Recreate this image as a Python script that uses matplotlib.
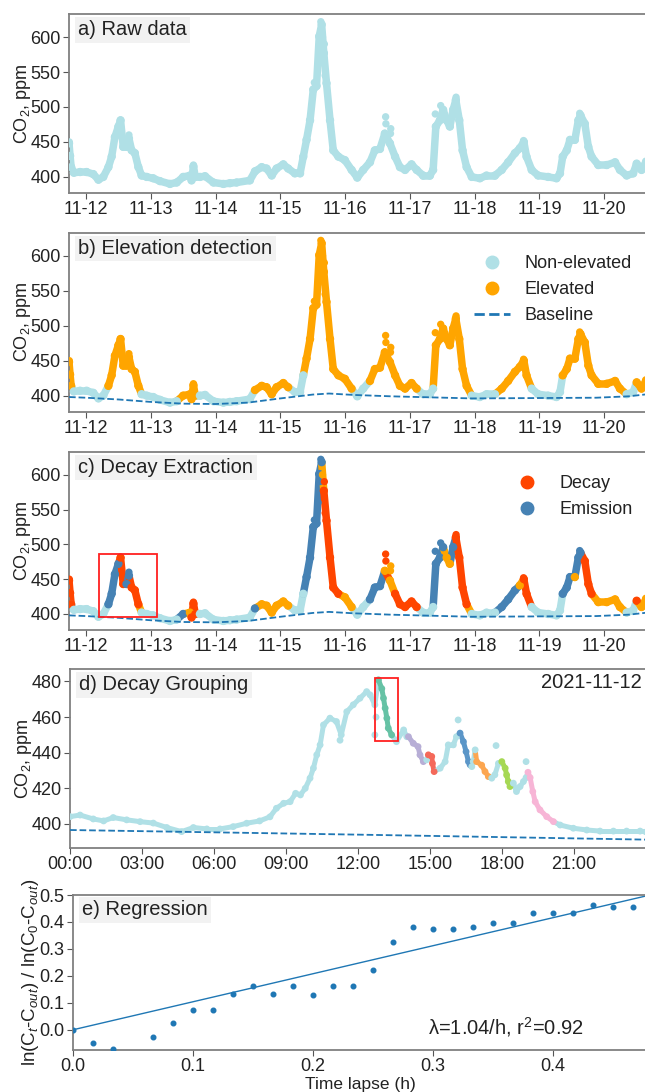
import numpy as np
import matplotlib
matplotlib.use("Agg")
import matplotlib.pyplot as plt
from matplotlib.collections import LineCollection
from matplotlib.lines import Line2D
from matplotlib.patches import Rectangle

plt.rcParams['font.family'] = ['Liberation Sans', 'DejaVu Sans']
plt.rcParams['mathtext.fontset'] = 'custom'
plt.rcParams['mathtext.rm'] = 'Liberation Sans'
plt.rcParams['mathtext.it'] = 'Liberation Sans:italic'

# ---------------- data (hours since 2021-11-12 00:00) ----------------
hours = [-6.3, -5.9, -5.5, -4.5, -2.2, 0.2, 2.7, 4.6, 6.4, 8.3, 9.5, 10.7, 12.0, 12.8,
         13.8, 15.0, 15.9, 16.9, 18.1, 19.4, 20.6, 22.5, 24.9, 27.4, 31.1, 33.6, 36.0,
         38.5, 39.1, 39.8, 40.5, 42.2, 44.1, 47.2, 50.9, 53.3, 55.8, 60.7, 62.6, 65.1,
         66.9, 68.8, 70.6, 73.1, 74.9, 77.4, 79.3, 80.5, 81.7, 83.0, 84.2, 85.4, 86.4,
         87.3, 88.1, 89.1, 90.4, 91.6, 93.5, 95.9, 98.4, 100.5, 102.7, 105.2, 107.0,
         108.9, 110.7, 112.6, 114.5, 116.3, 118.2, 120.6, 122.5, 124.9, 127.4, 128.6,
         129.6, 131.1, 132.3, 133.6, 134.8, 136.0, 137.0, 138.3, 139.5, 141.0, 142.9,
         145.9, 148.4, 151.5, 154.0, 156.4, 158.9, 160.7, 162.2, 163.2, 165.1, 167.5,
         171.2, 174.3, 175.6, 176.6, 178.1, 179.3, 181.1, 182.4, 183.2, 184.8, 186.1,
         187.3, 189.8, 192.9, 196.0, 197.8, 200.3, 202.7, 204.0, 205.8, 207.5]
co2 = [448, 430, 414, 406, 407, 407, 404, 396, 400, 414, 429, 457, 472, 481,
       443, 443, 455, 438, 434, 414, 402, 400, 398, 394, 390, 392, 400,
       402, 395, 415, 400, 400, 401, 392, 390, 391, 392, 395, 408, 414,
       412, 402, 412, 418, 412, 405, 405, 429, 453, 481, 525, 530, 601,
       618, 577, 534, 481, 438, 429, 424, 410, 399, 410, 421, 438,
       440, 462, 448, 429, 414, 410, 418, 410, 402, 402, 410,
       472, 481, 496, 481, 472, 496, 510, 481, 438, 414, 400,
       398, 402, 402, 410, 421, 434, 441, 450, 429, 410, 402,
       400, 398, 405, 429, 438, 453, 453, 481, 488, 476, 443,
       429, 417, 417, 421, 410, 402, 405, 419, 410, 422]
spike_hours = [-6.2, 15.9, 39.8, 84.6, 86.0, 86.6, 87.0, 87.6, 88.3, 88.6,
               111.0, 111.1, 112.8, 112.9, 129.4, 131.4, 137.1, 162.1, 182.9]
spike_co2 = [450, 460, 417, 535, 560, 590, 622, 600, 590, 545,
             486, 476, 462, 469, 490, 502, 514, 452, 491]

baseline_hours = [-6.3, 0, 12, 24, 36, 48, 60, 72, 84, 90, 99, 113, 128, 143, 166, 189, 201, 208]
baseline_co2 = [398, 397, 394.5, 391, 388.5, 388, 390, 396, 401.5, 403, 401, 399, 397.5, 396, 396.5, 397, 399, 402]

elevated_periods = [(-6.4, -5.2), (7.4, 20.0), (34.5, 41.0), (62.0, 75.5), (81.0, 99.0),
                    (104.5, 123.0), (128.8, 142.5), (152.5, 164.5), (176.5, 199.5), (204.0, 208)]
emission_periods = [(7.4, 12.0), (14.5, 16.0), (34.5, 36.0), (62.0, 63.5), (81.0, 87.5),
                    (105.0, 110.5), (128.8, 132.5), (135.0, 137.0), (152.5, 160.0),
                    (176.5, 180.5), (181.5, 183.3)]
decay_periods = [(-6.4, -5.2), (12.3, 14.0), (16.0, 19.5), (39.0, 41.0), (88.0, 94.5),
                 (110.8, 112.5), (114.0, 122.5), (137.0, 141.5), (162.0, 164.3),
                 (183.3, 188.0), (203.0, 204.0)]
date_labels = ['11-12', '11-13', '11-14', '11-15', '11-16', '11-17', '11-18', '11-19', '11-20']

# panel d: 2021-11-12 in detail
day_hours = [0, 0.42, 0.97, 1.4, 1.8, 2.36, 2.92, 3.47, 4.03, 4.65, 5.14, 5.7, 6.25, 6.8,
             7.36, 7.9, 8.33, 8.6, 8.9, 9.17, 9.4, 9.6, 9.8, 10.0, 10.14, 10.28, 10.42,
             10.56, 10.83, 11.1, 11.3, 11.53, 11.8, 12.08, 12.36, 12.5, 12.7, 12.85,
             12.99, 13.06, 13.13, 13.2, 13.26, 13.4, 13.6, 13.9, 14.03, 14.1, 14.3, 14.5,
             14.58, 14.72, 14.86, 14.93, 15.07, 15.1, 15.17, 15.42, 15.63, 15.76, 15.97,
             16.1, 16.25, 16.39, 16.5, 16.6, 16.67, 16.74, 16.8, 16.88, 16.94, 17.15,
             17.29, 17.43, 17.57, 17.7, 17.85, 17.99, 18.13, 18.19, 18.26, 18.33, 18.47,
             18.6, 18.75, 18.89, 19.0, 19.08, 19.17, 19.28, 19.38, 19.58, 19.86, 20.14,
             20.42, 20.97, 21.53, 22.08, 22.64, 23.19, 23.75, 24.0]
day_co2 = [404.1, 405, 402.8, 401.7, 403.6, 402.3, 401.3, 400.5, 398, 395.7, 398, 397.2, 397.2, 398.5,
           400.4, 401.7, 404, 408.8, 411.6, 412.5, 417.2, 416.3, 420, 425.7, 431.3, 438.8, 444.4,
           455.6, 459.4, 457.5, 450, 463, 466.9, 470.6, 474.3, 472.5, 466.9, 480.9,
           476, 470.6, 465, 459.4, 453.8, 450, 446.2, 452.8, 449, 449, 445.3, 443.4,
           438.8, 435, 436, 438.8, 437.9, 434, 429.4, 431.3, 435, 444.4, 444.4,
           449, 451, 446.2, 440.6, 435, 433.2, 432.2, 435, 441.6, 435, 433,
           429.4, 426.6, 425.7, 427.6, 434, 435, 431.3, 427.5, 423.8, 421, 422.9,
           418.2, 421, 423.8, 426, 429, 426, 418.2, 412.5, 407.9, 404.1, 401.3,
           399.4, 397.6, 396.6, 396, 396, 396, 396, 395.5]
day_spike_hours = [11.25, 12.7, 12.75, 16.17, 17.75, 19.0]
day_spike_co2 = [447, 450, 460, 458.4, 444, 435]
group_periods = [(12.8, 13.45), (14.05, 14.75), (14.9, 15.2), (16.2, 16.7), (16.9, 17.45),
                 (17.95, 18.35), (19.05, 20.2)]
group_colors = ['#66c2a5', '#b7aed6', '#f4695a', '#5b96c8', '#fca650', '#a6d854', '#f7b5d6']
day_baseline_hours = [0, 6, 12, 18, 24]
day_baseline_co2 = [396.6, 395.3, 394.0, 392.6, 391.2]
time_labels = ['00:00', '03:00', '06:00', '09:00', '12:00', '15:00', '18:00', '21:00']

# panel e: regression
lapse_h = [0.0, 1/60, 2/60, 4/60, 5/60, 6/60, 7/60, 8/60, 9/60, 10/60, 11/60, 12/60, 13/60,
           14/60, 15/60, 16/60, 17/60, 18/60, 19/60, 20/60, 21/60, 22/60, 23/60, 24/60,
           25/60, 26/60, 27/60, 28/60]
ln_ratio = [0.0, -0.05, -0.071, -0.025, 0.027, 0.075, 0.075, 0.134, 0.162, 0.134, 0.163,
            0.128, 0.163, 0.163, 0.221, 0.326, 0.381, 0.373, 0.373, 0.381, 0.396, 0.396,
            0.434, 0.434, 0.434, 0.463, 0.455, 0.455]
decay_rate = 1.04
fit_intercept = 0.0
r_squared = 0.92

# ---------------- styling ----------------
LIGHT = '#b0e0e6'
ORANGE = '#ffa500'
DECAY = '#ff4500'
EMIS = '#4682b4'
BASE = '#1f77b4'
SPINE = '#808080'
W, H = 645, 1092


def in_periods(x, periods):
    return any(a <= x <= b for a, b in periods)


def add_ax(left, top, bottom, right=648):
    return fig.add_axes([left / W, 1 - bottom / H, (right - left) / W, (bottom - top) / H])


def style(ax):
    for s in ax.spines.values():
        s.set_color(SPINE)
        s.set_linewidth(1.3)
    ax.tick_params(labelsize=13, length=4, color='#555555', labelcolor='#222222', pad=2)


def tag(ax, txt, fs=14.5):
    ax.text(0.016, 0.965, txt, transform=ax.transAxes, ha='left', va='top', fontsize=fs,
            color='#222222', zorder=10,
            bbox=dict(facecolor='#f2f2f2', edgecolor='none', pad=2.5))


def band(ax, x, y, colors, lw=5.4, s=36):
    pts = np.column_stack([x, y])
    segs = np.stack([pts[:-1], pts[1:]], axis=1)
    mids = (np.asarray(x[:-1]) + np.asarray(x[1:])) / 2
    seg_cols = [colors(m) for m in mids]
    lc = LineCollection(segs, colors=seg_cols, linewidths=lw, capstyle='round',
                        joinstyle='round', zorder=2)
    ax.add_collection(lc)
    ax.scatter(x, y, s=s, c=[colors(v) for v in x], linewidths=0, zorder=3)


def col_a(t):
    return LIGHT


def col_b(t):
    return ORANGE if in_periods(t, elevated_periods) else LIGHT


def col_c(t):
    if not in_periods(t, elevated_periods):
        return LIGHT
    if in_periods(t, decay_periods):
        return DECAY
    if in_periods(t, emission_periods):
        return EMIS
    return ORANGE


def col_d(t):
    for p, c in zip(group_periods, group_colors):
        if p[0] <= t <= p[1]:
            return c
    return LIGHT


fig = plt.figure(figsize=(W / 100, H / 100), dpi=100)

panels = [(14, 193, 'a) Raw data', col_a), (232.7, 411.7, 'b) Elevation detection', col_b),
          (451.7, 630, 'c) Decay Extraction', col_c)]
axes = []
for top, bot, title, cf in panels:
    ax = add_ax(69, top, bot)
    style(ax)
    band(ax, hours, co2, cf)
    ax.scatter(spike_hours, spike_co2, s=28, c=[cf(t) for t in spike_hours], linewidths=0, zorder=3)
    if cf is not col_a:
        ax.plot(baseline_hours, baseline_co2, ls='--', color=BASE, lw=1.3, zorder=4)
    ax.set_xlim(-6.3, 208.2)
    ax.set_ylim(377, 633)
    ax.set_yticks([400, 450, 500, 550, 600])
    ax.set_xticks(np.arange(len(date_labels)) * 24)
    ax.set_xticklabels(date_labels)
    ax.set_ylabel('CO$_2$, ppm', fontsize=13, color='#222222', labelpad=-2)
    tag(ax, title)
    axes.append(ax)

# legends
hb = [Line2D([], [], ls='none', marker='o', ms=9, color=LIGHT),
      Line2D([], [], ls='none', marker='o', ms=9, color=ORANGE),
      Line2D([], [], ls='--', lw=2, color=BASE)]
axes[1].legend(hb, ['Non-elevated', 'Elevated', 'Baseline'], loc='upper left',
               bbox_to_anchor=(458 / W, 1 - 239 / H), bbox_transform=fig.transFigure,
               frameon=False, fontsize=13, handlelength=2, labelcolor='#222222')
hc = [Line2D([], [], ls='none', marker='o', ms=9, color=DECAY),
      Line2D([], [], ls='none', marker='o', ms=9, color=EMIS)]
axes[2].legend(hc, ['Decay', 'Emission'], loc='upper left',
               bbox_to_anchor=(493 / W, 1 - 459 / H), bbox_transform=fig.transFigure,
               frameon=False, fontsize=13, handlelength=2, labelcolor='#222222')
axes[2].add_patch(Rectangle((4.7, 395), 21.7, 91, fill=False, ec='#ff2020', lw=1.3, zorder=6))

# panel d
axd = add_ax(70, 669, 848)
style(axd)
band(axd, day_hours, day_co2, col_d, lw=3.6, s=24)
axd.scatter(day_spike_hours, day_spike_co2, s=24, c=[col_d(t) for t in day_spike_hours],
            linewidths=0, zorder=3)
axd.plot(day_baseline_hours, day_baseline_co2, ls='--', color=BASE, lw=1.3, zorder=4)
axd.add_patch(Rectangle((12.69, 446.6), 0.98, 35.6, fill=False, ec='#ff2020', lw=1.3, zorder=6))
axd.set_xlim(0, 24.08)
axd.set_ylim(386.5, 487)
axd.set_yticks([400, 420, 440, 460, 480])
axd.set_xticks(np.arange(len(time_labels)) * 3)
axd.set_xticklabels(time_labels)
axd.set_ylabel('CO$_2$, ppm', fontsize=13, color='#222222', labelpad=-2)
tag(axd, 'd) Decay Grouping')
axd.text(0.99, 0.975, '2021-11-12', transform=axd.transAxes, ha='right', va='top',
         fontsize=14.5, color='#222222')

# panel e
axe = add_ax(73, 895, 1050)
style(axe)
axe.scatter(lapse_h, ln_ratio, s=11, color=BASE, zorder=3)
xf = np.array([0.0, 0.479])
axe.plot(xf, decay_rate * xf + fit_intercept, color=BASE, lw=1.0)
axe.set_xlim(0, 0.479)
axe.set_ylim(-0.075, 0.5)
axe.set_yticks([0.0, 0.1, 0.2, 0.3, 0.4, 0.5])
axe.set_xticks([0.0, 0.1, 0.2, 0.3, 0.4])
axe.set_xlabel('Time lapse (h)', fontsize=12.5, color='#222222', labelpad=1)
axe.set_ylabel(r'ln(C$_t$-C$_{out}$) / ln(C$_0$-C$_{out}$)', fontsize=13.5, color='#222222', labelpad=-1)
tag(axe, 'e) Regression')
axe.text(0.296, -0.036, f'λ={decay_rate:.2f}/h, r$^2$={r_squared:.2f}', fontsize=14.5,
         ha='left', va='bottom', color='#222222')

fig.savefig('out.png', dpi=100)
